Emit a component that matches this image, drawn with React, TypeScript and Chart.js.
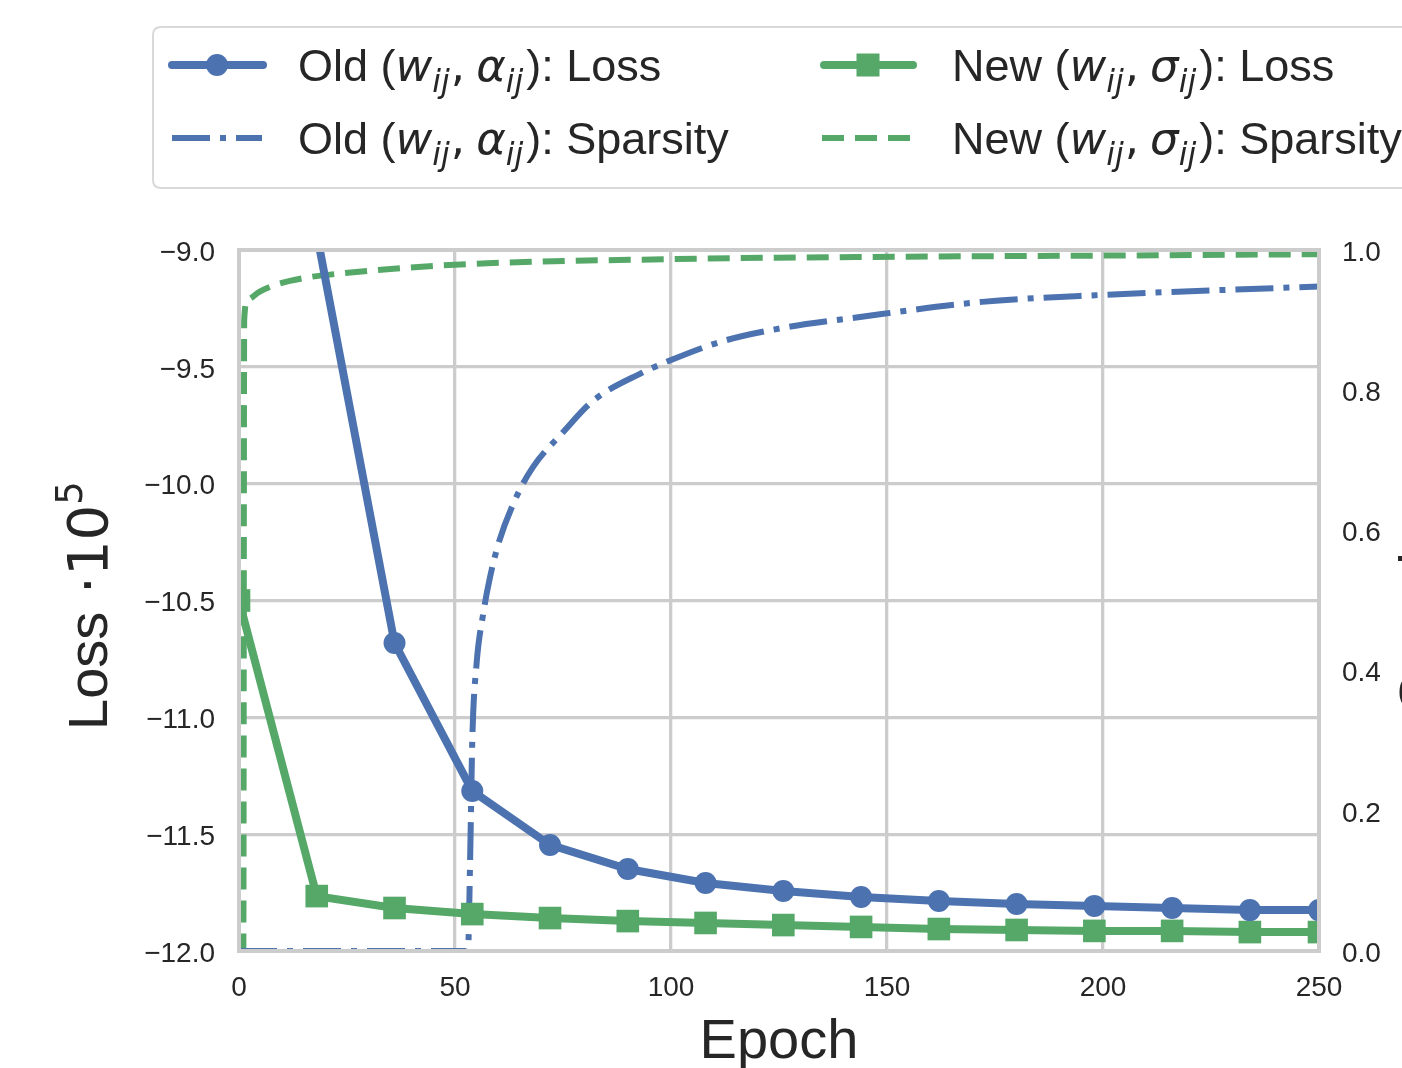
import { useEffect, useRef } from "react";
import { Chart, registerables } from "chart.js";

Chart.register(...registerables);

// ---- data ----
const lossEpochs = [0, 18, 36, 54, 72, 90, 108, 126, 144, 162, 180, 198, 216, 234, 250];
const oldLoss = [-7.6, -8.93, -10.682, -11.315, -11.546, -11.649, -11.709, -11.743, -11.769, -11.786, -11.799, -11.807, -11.816, -11.825, -11.825];
const newLoss = [-10.5, -11.765, -11.816, -11.842, -11.859, -11.872, -11.88, -11.889, -11.897, -11.906, -11.91, -11.914, -11.914, -11.919, -11.919];

const oldSparsityEpochs = [0, 53, 53.5, 54, 55, 56.5, 58, 60, 64, 68, 75, 82, 93, 100, 112, 127, 142, 172, 200, 250];
const oldSparsity = [0, 0, 0.13, 0.3, 0.41, 0.48, 0.53, 0.58, 0.645, 0.69, 0.74, 0.785, 0.824, 0.843, 0.87, 0.89, 0.903, 0.926, 0.936, 0.948];

const newSparsityEpochs = [0, 1, 1.2, 2, 4.6, 8.3, 16, 24.5, 50, 100, 143, 200, 250];
const newSparsity = [0, 0, 0.9, 0.929, 0.94, 0.95, 0.961, 0.967, 0.979, 0.987, 0.99, 0.992, 0.994];

const xTicks = [0, 50, 100, 150, 200, 250];
const lossTicks = [-12, -11.5, -11, -10.5, -10, -9.5, -9];
const sparsityTicks = [0, 0.2, 0.4, 0.6, 0.8, 1.0];

const BLUE = "#4C72B0";
const GREEN = "#55A868";
const TEXT = "#262626";
const GRID = "#cccccc";
const SANS = '"Liberation Sans", Arial, sans-serif';
const MATH = '"DejaVu Sans", sans-serif';

type Seg = { t: string; math?: boolean; it?: boolean; sub?: boolean; sup?: boolean; gap?: number };

function drawRich(ctx: CanvasRenderingContext2D, segs: Seg[], x: number, y: number, size: number) {
  let cx = x;
  ctx.textBaseline = "alphabetic";
  ctx.textAlign = "left";
  for (const s of segs) {
    let fs = size;
    let dy = 0;
    if (s.sub) { fs = size * 0.7; dy = size * 0.24; }
    if (s.sup) { fs = size * 0.66; dy = -size * 0.45; }
    const fam = s.math ? MATH : SANS;
    ctx.font = `${s.it ? "italic " : ""}${fs}px ${fam}`;
    ctx.fillText(s.t, cx, y + dy);
    cx += ctx.measureText(s.t).width + (s.gap || 0);
  }
  return cx;
}

function legendSegs(kind: "old" | "new", what: string): Seg[] {
  const g = kind === "old" ? "α" : "σ";
  return [
    { t: kind === "old" ? "Old (" : "New (" },
    { t: "w", math: true, it: true },
    { t: "ij", math: true, it: true, sub: true, gap: 1 },
    { t: ",", math: true, gap: 11 },
    { t: g, math: true, it: true },
    { t: "ij", math: true, it: true, sub: true, gap: 3 },
    { t: "): " + what },
  ];
}

export default function App() {
  const ref = useRef<HTMLCanvasElement>(null);

  useEffect(() => {
    document.body.style.margin = "0";
    const canvas = ref.current!;

    const overlay = {
      id: "overlay",
      afterDatasetsDraw(chart: any) {
        const { ctx, chartArea: a } = chart;
        ctx.save();
        ctx.strokeStyle = GRID;
        ctx.lineWidth = 4;
        ctx.strokeRect(a.left, a.top, a.right - a.left, a.bottom - a.top);
        ctx.restore();
      },
      afterDraw(chart: any) {
        const { ctx, chartArea: a } = chart;
        ctx.save();
        // Legend box
        const bx = 153, by = 27, bw = 1320, bh = 161, r = 8;
        ctx.beginPath();
        ctx.moveTo(bx + r, by);
        ctx.lineTo(bx + bw - r, by);
        ctx.quadraticCurveTo(bx + bw, by, bx + bw, by + r);
        ctx.lineTo(bx + bw, by + bh - r);
        ctx.quadraticCurveTo(bx + bw, by + bh, bx + bw - r, by + bh);
        ctx.lineTo(bx + r, by + bh);
        ctx.quadraticCurveTo(bx, by + bh, bx, by + bh - r);
        ctx.lineTo(bx, by + r);
        ctx.quadraticCurveTo(bx, by, bx + r, by);
        ctx.closePath();
        ctx.fillStyle = "rgba(255,255,255,0.8)";
        ctx.fill();
        ctx.strokeStyle = "#d9d9d9";
        ctx.lineWidth = 2;
        ctx.stroke();

        const r1 = 65, r2 = 138;
        // Old loss handle
        ctx.lineCap = "round";
        ctx.strokeStyle = BLUE;
        ctx.lineWidth = 8;
        ctx.beginPath(); ctx.moveTo(172, r1); ctx.lineTo(263, r1); ctx.stroke();
        ctx.fillStyle = BLUE;
        ctx.beginPath(); ctx.arc(217, r1, 11, 0, Math.PI * 2); ctx.fill();
        // New loss handle
        ctx.strokeStyle = GREEN;
        ctx.beginPath(); ctx.moveTo(824, r1); ctx.lineTo(913, r1); ctx.stroke();
        ctx.fillStyle = GREEN;
        ctx.fillRect(868 - 11.5, r1 - 11.5, 23, 23);
        // Old sparsity handle
        ctx.lineCap = "butt";
        ctx.lineWidth = 6;
        ctx.strokeStyle = BLUE;
        ctx.setLineDash([38, 10, 6, 10]);
        ctx.beginPath(); ctx.moveTo(172, r2); ctx.lineTo(262, r2); ctx.stroke();
        // New sparsity handle
        ctx.strokeStyle = GREEN;
        ctx.setLineDash([22, 11]);
        ctx.beginPath(); ctx.moveTo(822, r2); ctx.lineTo(916, r2); ctx.stroke();
        ctx.setLineDash([]);

        // Legend texts
        ctx.fillStyle = TEXT;
        const lf = 45;
        drawRich(ctx, legendSegs("old", "Loss"), 298, r1 + 16, lf);
        drawRich(ctx, legendSegs("new", "Loss"), 952, r1 + 16, lf);
        drawRich(ctx, legendSegs("old", "Sparsity"), 298, r2 + 16, lf);
        drawRich(ctx, legendSegs("new", "Sparsity"), 952, r2 + 16, lf);

        // X title
        ctx.font = `56px ${SANS}`;
        ctx.textAlign = "center";
        ctx.textBaseline = "alphabetic";
        ctx.fillText("Epoch", (a.left + a.right) / 2, 1058);

        // Left Y title (rotated)
        ctx.save();
        ctx.translate(107, 730);
        ctx.rotate(-Math.PI / 2);
        drawRich(ctx, [
          { t: "Loss", gap: 0 },
          { t: " \u00b7", math: true, gap: 0 },
          { t: "10", math: true },
          { t: "5", math: true, sup: true },
        ], 0, 0, 56);
        ctx.restore();

        // Right Y title (mostly outside the picture)
        ctx.save();
        ctx.translate(1438, 610);
        ctx.rotate(-Math.PI / 2);
        ctx.font = `56px ${SANS}`;
        ctx.textAlign = "center";
        ctx.textBaseline = "alphabetic";
        ctx.fillStyle = TEXT;
        ctx.fillText("Sparsity", 0, 0);
        ctx.restore();

        ctx.restore();
      },
    };

    const chart = new Chart(canvas, {
      type: "line",
      data: {
        datasets: [
          {
            label: "Old (w_ij, α_ij): Loss",
            data: lossEpochs.map((x, i) => ({ x, y: oldLoss[i] })),
            borderColor: BLUE,
            backgroundColor: BLUE,
            borderWidth: 8,
            pointStyle: "circle",
            pointRadius: 11,
            pointBorderWidth: 0,
            pointBackgroundColor: BLUE,
            yAxisID: "y",
            clip: 0,
            order: 1,
            tension: 0,
          } as any,
          {
            label: "New (w_ij, σ_ij): Loss",
            data: lossEpochs.map((x, i) => ({ x, y: newLoss[i] })),
            borderColor: GREEN,
            backgroundColor: GREEN,
            borderWidth: 8,
            pointStyle: "rect",
            pointRadius: 16,
            pointBorderWidth: 0,
            pointBackgroundColor: GREEN,
            yAxisID: "y",
            clip: 0,
            order: 2,
            tension: 0,
          } as any,
          {
            label: "Old (w_ij, α_ij): Sparsity",
            data: oldSparsityEpochs.map((x, i) => ({ x, y: oldSparsity[i] })),
            borderColor: BLUE,
            borderWidth: 6,
            borderDash: [38, 10, 6, 10],
            borderCapStyle: "butt",
            pointRadius: 0,
            cubicInterpolationMode: "monotone",
            yAxisID: "y1",
            clip: 0,
            order: 3,
          } as any,
          {
            label: "New (w_ij, σ_ij): Sparsity",
            data: newSparsityEpochs.map((x, i) => ({ x, y: newSparsity[i] })),
            borderColor: GREEN,
            borderWidth: 6,
            borderDash: [22, 11],
            borderCapStyle: "butt",
            pointRadius: 0,
            cubicInterpolationMode: "monotone",
            yAxisID: "y1",
            clip: 0,
            order: 4,
          } as any,
        ],
      },
      options: {
        responsive: false,
        animation: false,
        devicePixelRatio: 1,
        events: [],
        layout: { padding: { top: 250, left: 0, right: 0, bottom: 0 } },
        plugins: {
          legend: { display: false },
          tooltip: { enabled: false },
        },
        scales: {
          x: {
            type: "linear",
            min: 0,
            max: 250,
            afterBuildTicks: (s: any) => { s.ticks = xTicks.map((v) => ({ value: v })); },
            afterFit: (s: any) => { s.height = 117; },
            ticks: {
              autoSkip: false,
              maxRotation: 0,
              padding: 20,
              color: TEXT,
              font: { family: SANS, size: 28 },
              callback: (v: any) => String(v),
            },
            grid: { color: GRID, lineWidth: 3.3, drawTicks: false },
            border: { display: false },
          },
          y: {
            type: "linear",
            position: "left",
            min: -12,
            max: -9,
            afterBuildTicks: (s: any) => { s.ticks = lossTicks.map((v) => ({ value: v })); },
            afterFit: (s: any) => { s.width = 239; },
            ticks: {
              autoSkip: false,
              padding: 24,
              labelOffset: 3,
              color: TEXT,
              font: { family: SANS, size: 28 },
              callback: (v: any) => Number(v).toFixed(1).replace("-", "\u2212"),
            },
            grid: { color: GRID, lineWidth: 3.3, drawTicks: false },
            border: { display: false },
          },
          y1: {
            type: "linear",
            position: "right",
            min: 0,
            max: 1,
            afterBuildTicks: (s: any) => { s.ticks = sparsityTicks.map((v) => ({ value: v })); },
            afterFit: (s: any) => { s.width = 83; },
            ticks: {
              autoSkip: false,
              padding: 23,
              labelOffset: 3,
              color: TEXT,
              font: { family: SANS, size: 28 },
              callback: (v: any) => Number(v).toFixed(1),
            },
            grid: { display: false, drawTicks: false },
            border: { display: false },
          },
        },
      } as any,
      plugins: [overlay],
    });

    return () => chart.destroy();
  }, []);

  return (
    <canvas
      ref={ref}
      width={1402}
      height={1068}
      style={{ display: "block", width: "1402px", height: "1068px" }}
    />
  );
}
